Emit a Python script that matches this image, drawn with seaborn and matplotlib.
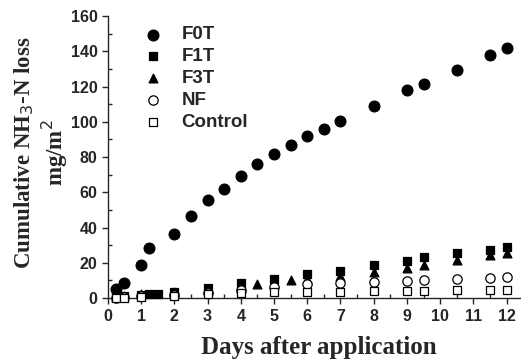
import numpy as np
import pandas as pd
import matplotlib
matplotlib.use("Agg")
import matplotlib.pyplot as plt
import seaborn as sns
from matplotlib.ticker import MultipleLocator

sns.set_style("ticks")

f0t_days = [0.25, 0.5, 1, 1.25, 2, 2.5, 3, 3.5, 4, 4.5, 5, 5.5, 6, 6.5, 7, 8, 9, 9.5, 10.5, 11.5, 12]
f0t_vals = [5, 8.5, 18.5, 28.5, 36.5, 46.5, 55.5, 62, 69, 76, 82, 87, 92, 96, 100.5, 109, 118, 121.5, 129.5, 138, 142]

f1t_days = [0.25, 0.5, 1, 1.25, 1.5, 2, 3, 4, 5, 6, 7, 8, 9, 9.5, 10.5, 11.5, 12]
f1t_vals = [1.0, 1.2, 2.0, 2.1, 2.2, 3.5, 5.5, 8.3, 10.6, 13.4, 15.5, 18.7, 21.2, 23.1, 25.4, 27.3, 29.1]

f3t_days = [0.25, 0.5, 1, 2, 3, 4, 4.5, 5, 5.5, 6, 7, 8, 9, 9.5, 10.5, 11.5, 12]
f3t_vals = [0.8, 1.0, 2.3, 3.2, 5.0, 6.0, 7.8, 8.8, 10.2, 10.8, 12.5, 15.0, 17.2, 18.7, 21.6, 24.4, 25.7]

nf_days = [0.25, 0.5, 1, 2, 3, 4, 5, 6, 7, 8, 9, 9.5, 10.5, 11.5, 12]
nf_vals = [0.3, 0.5, 1.2, 1.6, 3.0, 4.8, 6.4, 7.8, 8.3, 9.3, 9.7, 10.2, 10.6, 11.2, 11.8]

ctl_days = [0.25, 0.5, 1, 2, 3, 4, 5, 6, 7, 8, 9, 9.5, 10.5, 11.5, 12]
ctl_vals = [0.2, 0.3, 0.8, 1.1, 2.1, 2.7, 3.3, 3.6, 3.6, 4.0, 4.0, 4.3, 4.5, 4.5, 4.8]

series = [
    ("F0T", f0t_days, f0t_vals, "o", "black", 60),
    ("F1T", f1t_days, f1t_vals, "s", "black", 30),
    ("F3T", f3t_days, f3t_vals, "^", "black", 40),
    ("NF", nf_days, nf_vals, "o", "white", 45),
    ("Control", ctl_days, ctl_vals, "s", "white", 28),
]

fig = plt.figure(figsize=(5.21, 3.64), dpi=100)
ax = fig.add_axes([0.207, 0.181, 0.791, 0.775])

for name, d, v, m, fc, s in series:
    df = pd.DataFrame({"day": d, "val": v})
    sns.scatterplot(data=df, x="day", y="val", ax=ax, marker=m, s=s,
                    color=fc, edgecolor="black", linewidth=0.9,
                    label=name, clip_on=False, zorder=3)

ax.set_xlim(0, 12.4)
ax.set_ylim(0, 160)
ax.xaxis.set_major_locator(MultipleLocator(1))
ax.xaxis.set_minor_locator(MultipleLocator(0.5))
ax.yaxis.set_major_locator(MultipleLocator(20))
ax.yaxis.set_minor_locator(MultipleLocator(10))
ax.tick_params(axis="both", which="major", direction="out", length=4, width=1, labelsize=11.5)
ax.tick_params(axis="both", which="minor", direction="in", length=3, width=1)
for lab in ax.get_xticklabels() + ax.get_yticklabels():
    lab.set_fontweight("bold")
    lab.set_fontfamily("Liberation Sans")
sns.despine(ax=ax)
for sp in ["left", "bottom"]:
    ax.spines[sp].set_linewidth(1)

ax.set_xlabel("Days after application", fontfamily="Liberation Serif",
              fontweight="bold", fontsize=18)
ax.xaxis.set_label_coords(0.513, -0.133)
ax.set_ylabel("Cumulative NH$_3$-N loss\nmg/m$^2$", fontfamily="Liberation Serif",
              fontweight="bold", fontsize=16.5, linespacing=1.2)
ax.yaxis.label.set_horizontalalignment("center")
ax.yaxis.label.set_verticalalignment("center")
ax.yaxis.set_label_coords(-0.162, 0.515)

leg = ax.legend(loc="upper left", bbox_to_anchor=(0.04, 1.0), frameon=False,
                prop={"family": "Liberation Sans", "weight": "bold", "size": 13.5},
                handletextpad=0.5, labelspacing=0.25, borderaxespad=0.15)

fig.savefig("out.png", dpi=100)
